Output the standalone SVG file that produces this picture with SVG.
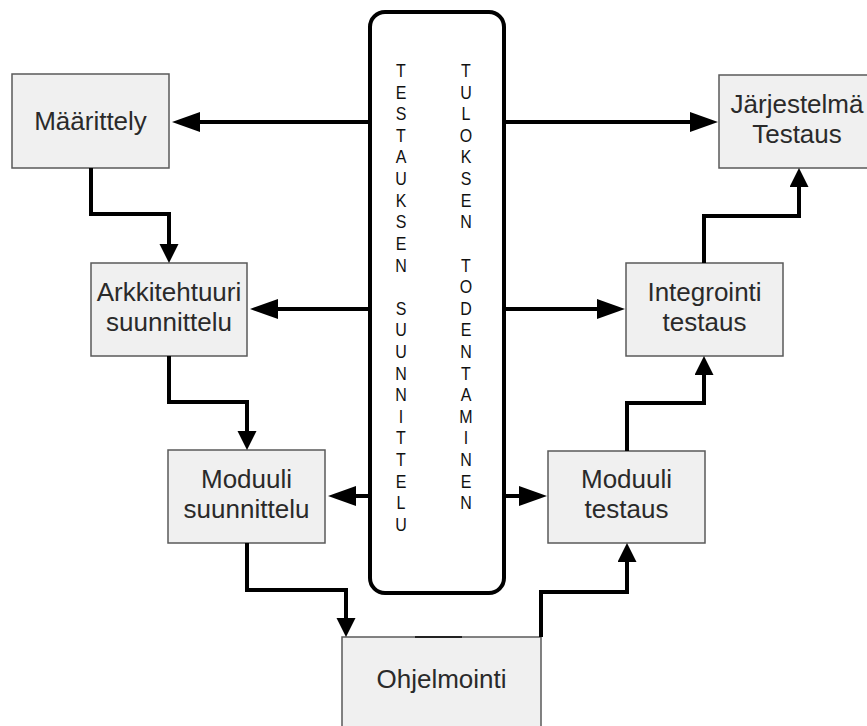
<svg xmlns="http://www.w3.org/2000/svg" width="867" height="726" viewBox="0 0 867 726">
  <style>
    .box { fill: #f0f0f0; stroke: #5a5a5a; stroke-width: 1.5; }
    .lbl { font-family: "Liberation Sans", Arial, sans-serif; font-size: 26px; fill: #2a2a2a; text-anchor: middle; }
    .col { font-family: "Liberation Sans", Arial, sans-serif; font-size: 16px; fill: #111; text-anchor: middle; }
    .wire { fill: none; stroke: #000; stroke-width: 4; stroke-linejoin: miter; }
  </style>
  <defs>
    <!-- long head for horizontal links, short head for vertical links -->
    <marker id="headH" markerUnits="userSpaceOnUse" markerWidth="30" markerHeight="22" refX="1" refY="10" orient="auto">
      <path d="M0,0 L28,10 L0,20 Z" fill="#000"/>
    </marker>
    <marker id="headV" markerUnits="userSpaceOnUse" markerWidth="21" markerHeight="21" refX="1" refY="9.5" orient="auto">
      <path d="M0,0 L19,9.5 L0,19 Z" fill="#000"/>
    </marker>
  </defs>

  <rect width="867" height="726" fill="#fff"/>

  <!-- central column -->
  <g id="testaus-pilari">
    <rect x="370" y="12" width="134" height="581" rx="15" ry="15" fill="#fff" stroke="#000" stroke-width="4"/>
    <text class="col" x="401" y="77" transform="translate(0,-7.7) scale(1,1.1)">
      <tspan x="401" dy="0">T</tspan><tspan x="401" dy="19.65">E</tspan><tspan x="401" dy="19.65">S</tspan><tspan x="401" dy="19.65">T</tspan><tspan x="401" dy="19.65">A</tspan><tspan x="401" dy="19.65">U</tspan><tspan x="401" dy="19.65">K</tspan><tspan x="401" dy="19.65">S</tspan><tspan x="401" dy="19.65">E</tspan><tspan x="401" dy="19.65">N</tspan><tspan x="401" dy="39.3">S</tspan><tspan x="401" dy="19.65">U</tspan><tspan x="401" dy="19.65">U</tspan><tspan x="401" dy="19.65">N</tspan><tspan x="401" dy="19.65">N</tspan><tspan x="401" dy="19.65">I</tspan><tspan x="401" dy="19.65">T</tspan><tspan x="401" dy="19.65">T</tspan><tspan x="401" dy="19.65">E</tspan><tspan x="401" dy="19.65">L</tspan><tspan x="401" dy="19.65">U</tspan>
    </text>
    <text class="col" x="466" y="77" transform="translate(0,-7.7) scale(1,1.1)">
      <tspan x="466" dy="0">T</tspan><tspan x="466" dy="19.65">U</tspan><tspan x="466" dy="19.65">L</tspan><tspan x="466" dy="19.65">O</tspan><tspan x="466" dy="19.65">K</tspan><tspan x="466" dy="19.65">S</tspan><tspan x="466" dy="19.65">E</tspan><tspan x="466" dy="19.65">N</tspan><tspan x="466" dy="39.3">T</tspan><tspan x="466" dy="19.65">O</tspan><tspan x="466" dy="19.65">D</tspan><tspan x="466" dy="19.65">E</tspan><tspan x="466" dy="19.65">N</tspan><tspan x="466" dy="19.65">T</tspan><tspan x="466" dy="19.65">A</tspan><tspan x="466" dy="19.65">M</tspan><tspan x="466" dy="19.65">I</tspan><tspan x="466" dy="19.65">N</tspan><tspan x="466" dy="19.65">E</tspan><tspan x="466" dy="19.65">N</tspan>
    </text>
  </g>

  <g id="maarittely">
    <rect class="box" x="12" y="74" width="157" height="94"/>
    <text class="lbl" x="90.5" y="130">Määrittely</text>
  </g>

  <g id="jarjestelma-testaus">
    <rect class="box" x="719" y="75" width="156" height="93"/>
    <text class="lbl" x="797" y="113">Järjestelmä</text>
    <text class="lbl" x="797" y="143">Testaus</text>
  </g>

  <g id="arkkitehtuuri">
    <rect class="box" x="91" y="263" width="156" height="93"/>
    <text class="lbl" x="169" y="301">Arkkitehtuuri</text>
    <text class="lbl" x="169" y="331">suunnittelu</text>
  </g>

  <g id="integrointi">
    <rect class="box" x="626" y="263" width="157" height="93"/>
    <text class="lbl" x="704.5" y="301">Integrointi</text>
    <text class="lbl" x="704.5" y="331">testaus</text>
  </g>

  <g id="moduuli-suunnittelu">
    <rect class="box" x="168" y="450" width="157" height="93"/>
    <text class="lbl" x="246.5" y="488">Moduuli</text>
    <text class="lbl" x="246.5" y="518">suunnittelu</text>
  </g>

  <g id="moduuli-testaus">
    <rect class="box" x="548" y="451" width="157" height="92"/>
    <text class="lbl" x="626.5" y="488">Moduuli</text>
    <text class="lbl" x="626.5" y="518">testaus</text>
  </g>

  <g id="ohjelmointi">
    <rect class="box" x="342" y="637" width="199" height="100"/>
    <line x1="415" y1="637" x2="462" y2="637" stroke="#222" stroke-width="2"/>
    <text class="lbl" x="441.5" y="688">Ohjelmointi</text>
  </g>

  <g id="connectors">
    <!-- from the central column to each phase -->
    <path class="wire" d="M370,122 H199" marker-end="url(#headH)"/>
    <path class="wire" d="M504,122 H691" marker-end="url(#headH)"/>
    <path class="wire" d="M370,309 H277" marker-end="url(#headH)"/>
    <path class="wire" d="M504,309 H598" marker-end="url(#headH)"/>
    <path class="wire" d="M370,496 H355" marker-end="url(#headH)"/>
    <path class="wire" d="M504,496 H520" marker-end="url(#headH)"/>

    <!-- design side, going down -->
    <path class="wire" d="M91,168 V214 H169 V245" marker-end="url(#headV)"/>
    <path class="wire" d="M169,356 V402 H247 V432" marker-end="url(#headV)"/>
    <path class="wire" d="M247,543 V590 H346 V619" marker-end="url(#headV)"/>

    <!-- testing side, going up -->
    <path class="wire" d="M541,637 V592 H627 V561" marker-end="url(#headV)"/>
    <path class="wire" d="M627,451 V403 H704 V374" marker-end="url(#headV)"/>
    <path class="wire" d="M704,263 V216 H799 V186" marker-end="url(#headV)"/>
  </g>
</svg>
